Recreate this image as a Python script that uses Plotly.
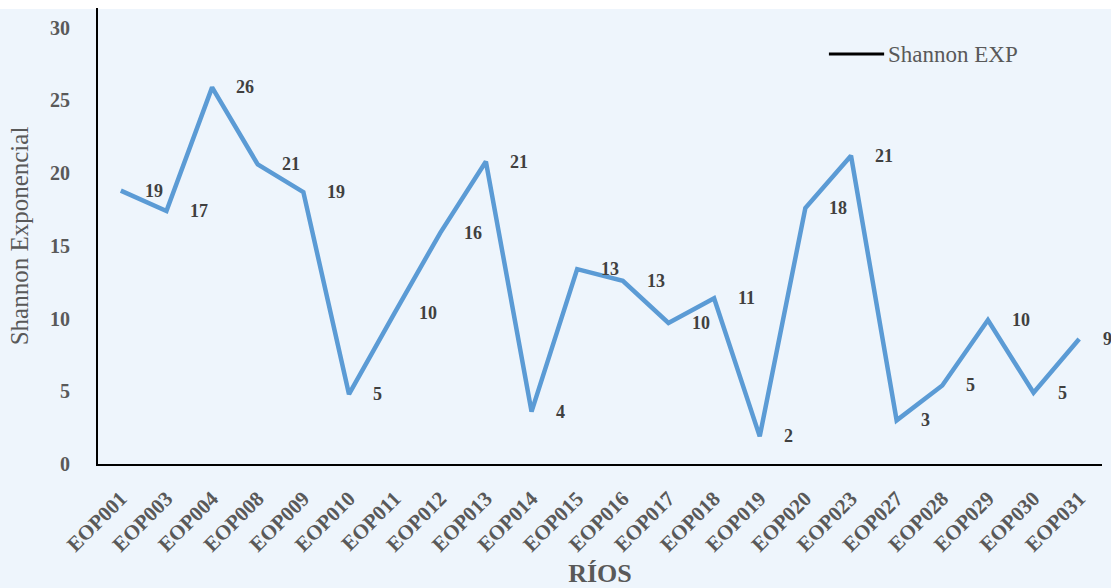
import plotly.graph_objects as go

# Sampling stations (rivers) and their exponential Shannon diversity
stations = ["EOP001", "EOP003", "EOP004", "EOP008", "EOP009", "EOP010", "EOP011",
            "EOP012", "EOP013", "EOP014", "EOP015", "EOP016", "EOP017", "EOP018",
            "EOP019", "EOP020", "EOP023", "EOP027", "EOP028", "EOP029", "EOP030",
            "EOP031"]
shannon_exp = [18.8, 17.4, 25.9, 20.6, 18.7, 4.8, 10.4,
               15.9, 20.8, 3.6, 13.4, 12.6, 9.7, 11.4,
               1.9, 17.6, 21.2, 3.0, 5.4, 9.9, 4.9,
               8.6]
y_ticks = [0, 5, 10, 15, 20, 25, 30]

BG = "#EEF5FC"
LINE = "#5B9BD5"
GREY = "#595959"
SERIF = "Liberation Serif, Times New Roman, serif"

fig = go.Figure()
fig.add_trace(go.Scatter(
    x=stations, y=shannon_exp, mode="lines",
    line=dict(color=LINE, width=4.5),
    showlegend=False, hoverinfo="x+y",
))

# value labels to the right of each point
annotations = []
for s, v in zip(stations, shannon_exp):
    annotations.append(dict(
        x=s, y=v, xref="x", yref="y", text=f"{v:.0f}",
        showarrow=False, xanchor="left", yanchor="middle", xshift=22,
        font=dict(family=SERIF, size=18, color="#404040", weight="bold"),
    ))

# legend entry
annotations.append(dict(
    x=0.785, y=0.899, xref="paper", yref="paper", text="Shannon EXP",
    showarrow=False, xanchor="left", yanchor="middle",
    font=dict(family=SERIF, size=23, color=GREY),
))

shapes = [
    dict(type="rect", xref="paper", yref="paper", x0=-0.2, x1=1.1,
         y0=0.998, y1=1.05, fillcolor="white", line=dict(width=0), layer="below"),
    dict(type="line", xref="paper", yref="paper", x0=0.728, x1=0.783,
         y0=0.899, y1=0.899, line=dict(color="black", width=3)),
]

fig.update_layout(
    width=1111, height=588,
    margin=dict(l=98, r=9, t=8, b=124),
    paper_bgcolor=BG, plot_bgcolor=BG,
    annotations=annotations, shapes=shapes,
    showlegend=False,
    xaxis=dict(
        type="category", range=[-0.5, len(stations) - 0.5],
        showgrid=False, showline=True, linecolor="black", linewidth=2,
        tickangle=-45, ticklabelstandoff=12,
        tickfont=dict(family=SERIF, size=21, color=GREY, weight="bold"),
        title=dict(text="RÍOS", standoff=14,
                   font=dict(family=SERIF, size=26, color=GREY, weight="bold")),
        automargin=False,
    ),
    yaxis=dict(
        range=[0, 31.36], tickvals=y_ticks,
        showgrid=False, showline=True, linecolor="black", linewidth=2,
        zeroline=False, ticklabelstandoff=22,
        tickfont=dict(family=SERIF, size=20, color=GREY, weight="bold"),
        title=dict(text="Shannon Exponencial", standoff=14,
                   font=dict(family=SERIF, size=25, color=GREY)),
        automargin=False,
    ),
)

fig.write_html("out.html")
